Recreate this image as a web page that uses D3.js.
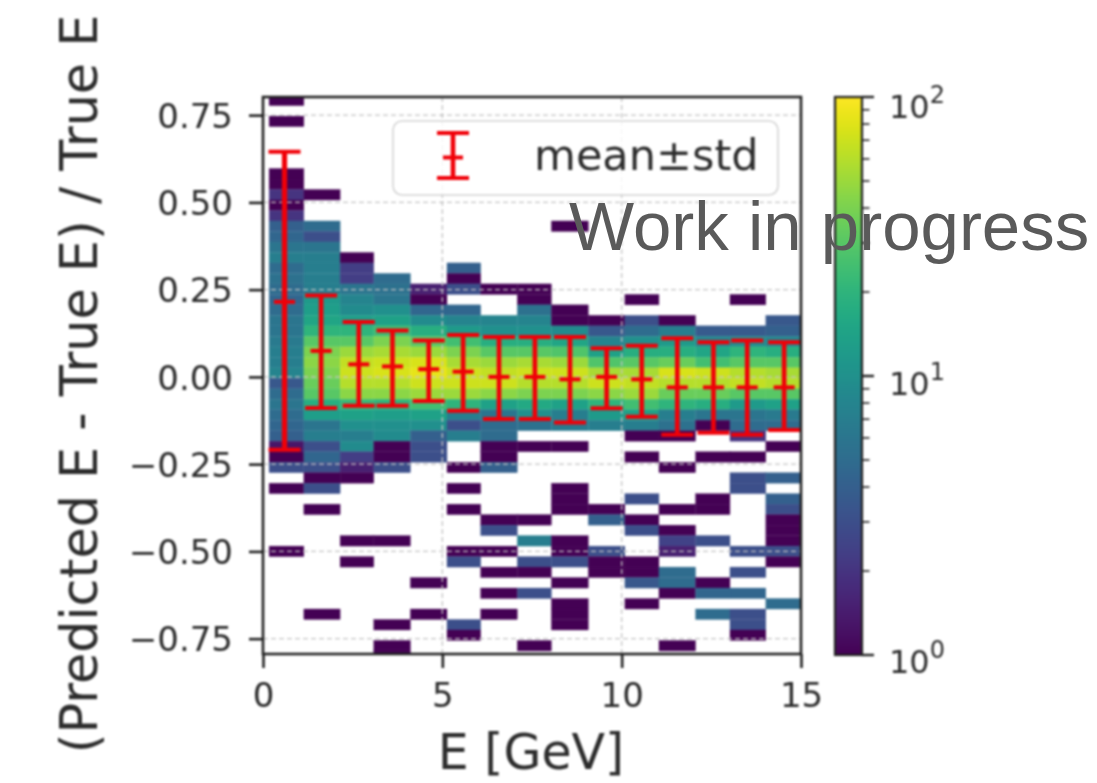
<!DOCTYPE html>
<html><head><meta charset="utf-8">
<script src="https://cdn.jsdelivr.net/npm/d3@7"></script>
<style>
html,body{margin:0;padding:0;background:#fff;overflow:hidden}
svg{display:block}
text{font-family:"DejaVu Sans",sans-serif;fill:#2c2c2c}
.soft{filter:blur(0.8px)}
</style></head><body><svg id="c" width="1097" height="783"></svg>
<script>
// Bin edges in E (GeV)
const xEdges=[0.17,1.14,2.15,3.09,4.11,5.13,6.07,7.09,8.04,9.07,10.09,11.04,12.06,13.02,14.02,15];
// Each column: counts per row, rows run from the top (+0.78) to the bottom (-0.81), 18 per line
const col0=[1,0,1,0,0,0,0,1,1,2,1,2,4,4.5,6,7,5,5.5,
 5,4.5,5,6,6,6.5,7,7,8,3.5,5,6,5,4.5,4,1.3,1,3,
 0,1,0,0,0,0,0,1,0,0,0,0,0,0,0,0,0,0];
const col1=[0,0,0,0,0,0,0,0,0,1,0,0,5,3,6,7,7,7,
 7,12,13,15,20,30,40,45,40,35,30,18,13,6,7,3,4.5,3,
 1,3,0,1,0,0,0,0,0,0,0,0,0,1,0,0,0,0];
const col2=[0,0,0,0,0,0,0,0,0,0,0,0,0,0,0,1,2.3,2.3,
 6,8,9,13,20,30,50,65,70,60,45,22,14,10,7,9,2.3,1.5,
 1,0,0,0,0,0,1,0,1,0,0,0,0,0,0,0,0,0];
const col3=[0,0,0,0,0,0,0,0,0,0,0,0,0,0,0,0,0,5,
 5.5,6,10,14,24,40,55,70,75,60,45,20,13,10,9,1,1,3,
 0,0,0,0,0,0,1,0,0,0,0,0,0,0,1,0,1,1];
const col4=[0,0,0,0,0,0,0,0,0,0,0,0,0,0,0,0,0,0,
 1.5,1,4.5,9,18,30,50,75,85,70,50,25,14,10,4,3,3,0,
 0,0,0,0,0,0,0,0,0,0,1,0,0,1,0,0,0,0];
const col5=[0,0,0,0,0,0,0,0,0,0,0,0,0,0,0,0,4,1,
 3,0,4.5,8,12,25,40,55,70,70,50,20,7,3,7,0,0,1,
 0,1,0,1,0,0,0,1,3,0,0,0,0,0,3,1,0,0];
const col6=[0,0,0,0,0,0,0,0,0,0,0,0,0,0,0,0,0,0,
 1,0,0,8,10,18,30,50,65,70,45,14,6,5,5,1,1,4,
 0,0,0,0,1,3,0,1,0,1,0,1,0,1,0,0,0,0];
const col7=[0,0,0,0,0,0,0,0,0,0,0,0,0,0,0,0,0,0,
 1,1,5.5,8,10,18,30,55,70,60,40,16,10,5.5,0,1,0,0,
 0,0,0,0,1,0,7,0,3,1,0,3,0,0,0,0,1,0];
const col8=[0,0,0,0,0,0,0,0,0,0,0,0,1,0,0,0,0,0,
 0,0,1,1,9,15,28,50,70,60,40,14,7,6.5,0,1,0,0,
 0,1,1,1,0,0,1,1,3,0,1,0,1,1,1,0,0,0];
const col9=[0,0,0,0,0,0,0,0,0,0,0,0,0,0,0,0,0,0,
 0,0,0,1,3.5,8,14,28,55,70,45,20,12,7,0,0,0,0,
 0,0,0,1,4,0,0,3,1,1,0,0,0,0,0,0,0,0];
const col10=[0,0,0,0,0,0,0,0,0,0,0,0,0,0,0,0,0,0,
 0,1,0,3,5,10,18,30,55,65,50,25,14,7,1,0,1,0,
 0,0,3,0,1,3,0,0,1,1,3.5,0,1,0,0,0,0,0];
const col11=[0,0,0,0,0,0,0,0,0,0,0,0,0,0,0,0,0,0,
 0,0,0,1,7,12,18,35,75,60,35,20,7,5.5,1,0,0,1,
 0,0,0,1,0,1,2.5,1.5,0,5,5,1,0,0,0,0,1,0];
const col12=[0,0,0,0,0,0,0,0,0,0,0,0,0,0,0,0,0,0,
 0,0,0,0,3.7,8,15,25,70,60,35,18,6,1,0,0,1,0,
 0,0,1,1,0,0,3,0,0,0,1,4.5,0,5,0,0,0,0];
const col13=[0,0,0,0,0,0,0,0,0,0,0,0,0,0,0,0,0,0,
 0,1,0,0,3.7,9,20,30,60,65,30,12,6,5,2,0,1,0,
 3,3,0,0,0,0,0,3,0,3,0,4.5,0,3,3,1,0,0];
const col14=[0,0,0,0,0,0,0,0,0,0,0,0,0,0,0,0,0,0,
 0,0,0,3.5,4,8,18,30,55,60,30,14,6.5,5,0,1,0,0,
 4,0,4,3,1,1,1,3,1,0,0,0,5,0,0,0,0,0];
const columns=[col0,col1,col2,col3,col4,col5,col6,col7,col8,col9,col10,col11,col12,col13,col14];

// mean +- std, per energy bin
const ebCenter=[0.6,1.62,2.67,3.61,4.62,5.58,6.58,7.58,8.56,9.58,10.56,11.55,12.56,13.5,14.53];
const ebMean=[0.215,0.0745,0.036,0.03,0.022,0.015,0,0,-0.007,0,-0.007,-0.03,-0.03,-0.03,-0.03];
const ebTop=[0.645,0.233,0.157,0.133,0.104,0.12,0.114,0.114,0.114,0.082,0.089,0.111,0.099,0.104,0.099];
const ebBottom=[-0.209,-0.089,-0.083,-0.083,-0.069,-0.097,-0.121,-0.121,-0.131,-0.09,-0.114,-0.166,-0.16,-0.166,-0.152];

const xTicks=[0,5,10,15];
const yTicks=[-0.75,-0.5,-0.25,0,0.25,0.5,0.75];
const cbarDecades=[1,10,100];
const cbarMinor=[2,3,4,5,6,7,8,9,20,30,40,50,60,70,80,90];
const rowHeight=0.03005, rowZero=-0.004, topRow=26;

const svg=d3.select('#c');
const x=d3.scaleLinear().domain([0,15]).range([263,801]);
const y=d3.scaleLinear().domain([-0.794,0.802]).range([654,97]);
const color=d3.scaleSequentialLog(d3.interpolateViridis).domain([1,100]);
const soft=svg.append('g').attr('class','soft');
const defs=svg.append('defs');
defs.append('clipPath').attr('id','pl').append('rect').attr('x',263).attr('y',97).attr('width',538).attr('height',557);

// heat map
const cells=soft.append('g').attr('clip-path','url(#pl)');
columns.forEach((col,c)=>col.forEach((v,i)=>{
  if(!v) return;
  const k=topRow-i;
  const lo=rowZero+k*rowHeight;
  cells.append('rect')
    .attr('x',x(xEdges[c])).attr('width',x(xEdges[c+1])-x(xEdges[c]))
    .attr('y',y(lo+rowHeight)).attr('height',y(lo)-y(lo+rowHeight))
    .attr('fill',color(v)).attr('stroke',color(v)).attr('stroke-width',0.3);
}));

// grid
const grid=soft.append('g').attr('stroke','#c4c4c4').attr('stroke-width',1.3).attr('stroke-dasharray','5 3').attr('fill','none');
xTicks.slice(1,-1).forEach(t=>grid.append('line').attr('x1',x(t)).attr('x2',x(t)).attr('y1',97).attr('y2',654));
yTicks.forEach(t=>grid.append('line').attr('x1',263).attr('x2',801).attr('y1',y(t)).attr('y2',y(t)));

// error bars
const eb=soft.append('g').attr('stroke','#f00008').attr('fill','none').attr('clip-path','url(#pl)');
ebCenter.forEach((c,i)=>{
  const px=x(c);
  eb.append('line').attr('x1',px).attr('x2',px).attr('y1',y(ebTop[i])).attr('y2',y(ebBottom[i])).attr('stroke-width',i?4.6:5.2);
  [ebTop[i],ebBottom[i]].forEach(v=>eb.append('line').attr('x1',px-16).attr('x2',px+16).attr('y1',y(v)).attr('y2',y(v)).attr('stroke-width',4));
  eb.append('line').attr('x1',px-10.5).attr('x2',px+10.5).attr('y1',y(ebMean[i])).attr('y2',y(ebMean[i])).attr('stroke-width',4);
});

// frame and axes
soft.append('rect').attr('x',263).attr('y',97).attr('width',538).attr('height',557).attr('fill','none').attr('stroke','#222').attr('stroke-width',2.6);
const ax=soft.append('g').attr('transform','translate(0,654)').call(d3.axisBottom(x).tickValues(xTicks).tickSize(14).tickPadding(15).tickFormat(d3.format('d')));
const ay=soft.append('g').attr('transform','translate(263,0)').call(d3.axisLeft(y).tickValues(yTicks).tickSize(14).tickPadding(16).tickFormat(d=>d3.format('.2f')(d).replace('-','\u2212')));
[ax,ay].forEach(a=>{
  a.select('.domain').remove();
  a.selectAll('line').attr('stroke','#222').attr('stroke-width',2.6);
  a.selectAll('text').attr('font-size',34).attr('font-family','"DejaVu Sans"').style('fill','#2c2c2c');
});
ay.selectAll('text').attr('dy','0.36em');

// axis labels
soft.append('text').attr('x',531).attr('y',769).attr('text-anchor','middle').attr('font-size',49).text('E [GeV]');
soft.append('text').attr('transform','translate(97,384) rotate(-90)').attr('text-anchor','middle').attr('font-size',50.8).text('(Predicted E - True E) / True E');

// legend
const lg=soft.append('g');
lg.append('rect').attr('x',393).attr('y',121).attr('width',385).attr('height',74).attr('rx',9).attr('fill','#fff').attr('fill-opacity',0.85).attr('stroke','#d4d4d4').attr('stroke-width',1.6);
const lgR=lg.append('g').attr('stroke','#f00008').attr('stroke-width',4);
lgR.append('line').attr('x1',453).attr('x2',453).attr('y1',133).attr('y2',178).attr('stroke-width',4.6);
lgR.append('line').attr('x1',437).attr('x2',469).attr('y1',133).attr('y2',133);
lgR.append('line').attr('x1',437).attr('x2',469).attr('y1',178).attr('y2',178);
lgR.append('line').attr('x1',443).attr('x2',463).attr('y1',157.5).attr('y2',157.5);
lg.append('text').attr('x',534).attr('y',170).attr('font-size',43).text('mean\u00b1std');

// colour bar
const cb=d3.scaleLog().domain([1,100]).range([655,97]);
const grad=defs.append('linearGradient').attr('id','vg').attr('x1',0).attr('x2',0).attr('y1',1).attr('y2',0);
d3.range(0,1.0001,0.02).forEach(t=>grad.append('stop').attr('offset',t).attr('stop-color',d3.interpolateViridis(t)));
soft.append('rect').attr('x',835).attr('y',97).attr('width',27).attr('height',558).attr('fill','url(#vg)').attr('stroke','#222').attr('stroke-width',2.2);
const cbT=soft.append('g').attr('stroke','#222');
cbarDecades.forEach(v=>cbT.append('line').attr('x1',862).attr('x2',874).attr('y1',cb(v)).attr('y2',cb(v)).attr('stroke-width',2.4));
cbarMinor.forEach(v=>cbT.append('line').attr('x1',862).attr('x2',869.5).attr('y1',cb(v)).attr('y2',cb(v)).attr('stroke-width',1.6));
cbarDecades.forEach((v,i)=>{
  const yy=cb(v)+(i===2?21:i===1?19:18);
  const t=soft.append('text').attr('x',889).attr('y',yy).attr('font-size',32);
  t.append('tspan').text('10');
  t.append('tspan').attr('dy',-15).attr('font-size',24).text(i);
});

// overlay note
svg.append('text').attr('x',569).attr('y',250).attr('font-size',69).style('font-family','"Liberation Sans"').style('fill','#5a5a5a').text('Work in progress');
</script></body></html>
